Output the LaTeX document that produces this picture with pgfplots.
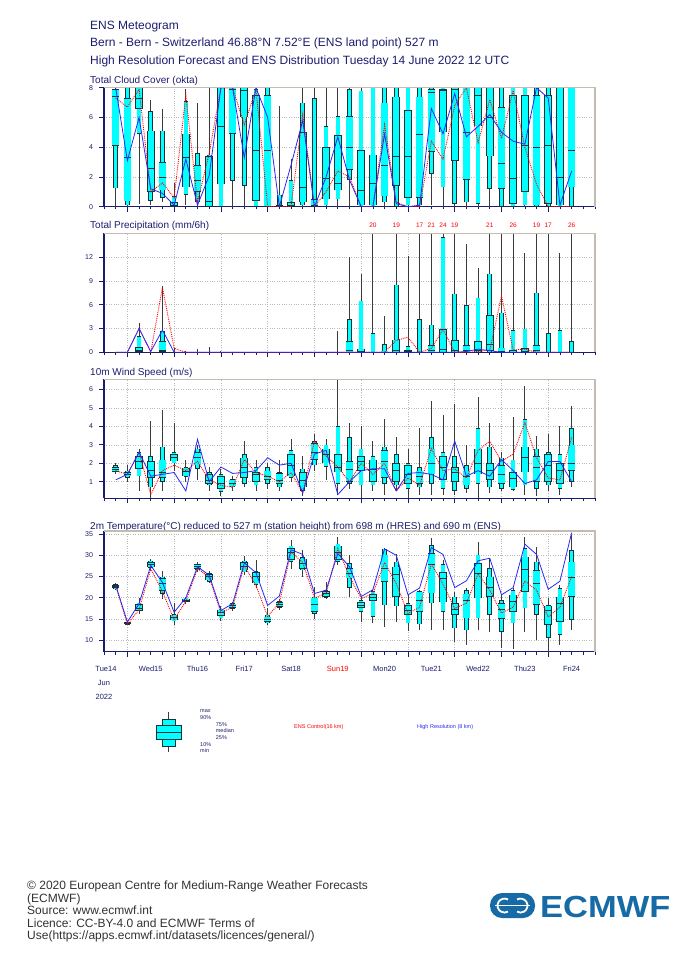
\documentclass[border=0pt]{standalone}
\usepackage{fontspec}
\setmainfont{Liberation Sans}
\usepackage{pgfplots}
\usepackage{pgfplotstable}
\pgfplotsset{compat=1.18}

\definecolor{navy}{RGB}{28,28,110}
\definecolor{boxcyan}{RGB}{0,255,255}
\definecolor{boxedge}{RGB}{20,50,55}
\definecolor{whisk}{RGB}{60,60,60}
\definecolor{hresblue}{RGB}{40,40,245}
\definecolor{framegrey}{RGB}{195,188,176}
\definecolor{ecblue}{RGB}{22,107,167}
\definecolor{foot}{RGB}{50,50,50}

% ---------------- data: t min p10 p25 median p75 p90 max control hres
\pgfplotstableread{
t lo p10 p25 med p75 p90 hi c h
6 0 1.25 4.1 7.4 7.9 7.9 8 7.3 8
12 0 0.1 0.35 3.3 7.3 8 8 6.7 3.1
18 0.2 4.9 6.6 7.3 8 8 8 7.9 6.0
24 0.1 0.4 1.0 2.6 5.1 6.4 7.2 1.0 1.2
30 0.3 0.6 1.1 2.0 3.0 5.1 6.6 1.6 0.9
36 0 0 0 0.1 0.3 0.7 1.6 0.6 0.1
42 0.1 0.8 1.3 3.3 4.9 7.1 7.9 7.5 3.2
48 0 0.3 1.0 1.8 2.8 3.6 7.0 0.3 0.1
54 0 0 0 0.35 3.4 3.5 8 3.6 2.1
60 0 0 1.5 5.4 8 8 8 8 8
66 0 1.75 4.9 7.9 8 8 8 8 8
72 0 1.4 6.0 7.8 8 8 8 5.5 3.3
78 0 0 0.4 3.8 7.5 7.9 8 7.9 8
84 0 0 0 3.8 7.5 8 8 0 6.0
90 0 0 0 0 0.1 0.8 6.8 0 0
96 0 0 0 0.1 0.3 1.8 3.2 0 2.8
102 0 0.1 0.3 1.3 5.0 7.0 8 6.2 5.8
108 0 0 0 0.1 0.5 7.3 8 0 0
114 0 0.1 0.5 1.9 4.0 5.4 8 1.0 2.0
120 0 0.5 1.1 1.6 4.8 6.1 8 2.4 4.7
126 0 1.8 2.5 4.0 6.1 7.9 8 2.0 1.8
132 0 0 0.1 1.1 3.8 7.8 8 0 0
138 0 0 0.1 1.6 3.5 8 8 0 0
144 0 0.3 0.7 2.8 7.0 8 8 5.5 4.9
150 0 0 1.4 3.4 7.4 8 8 0.3 0.2
156 0 0.1 0.6 3.4 6.5 8 8 0 0
162 0 0.1 0.6 4.9 7.4 8 8 0 0.1
168 0.1 2.2 3.7 7.7 7.9 8 8 4.4 6.6
174 0 1.3 5.0 7.8 7.9 8 8 3.2 4.9
180 0 0.2 3.1 7.9 8 8 8 6.8 7.6
186 0 0.3 1.8 5.0 8 8 8 8 4.7
192 0 0.2 5.4 7.5 8 8 8 4.3 5.4
198 0 1.2 3.4 6.0 8 8 8 7.2 6.2
204 0 0 1.2 2.9 6.7 8 8 4.6 5.0
210 0 0 0.2 1.9 7.5 8 8 7.8 4.4
216 0 0.1 1.0 4.1 7.5 8 8 4.0 4.2
222 0 0 0.1 4.0 7.5 8 8 1.5 8
228 0 0 0.2 4.1 7.5 8 8 0 7.3
234 0 0 0.1 2.0 8 8 8 0 0.1
240 0 0 1.3 3.8 8 8 8 0 2.4
}\cloud

\pgfplotstableread{
t lo p10 p25 med p75 p90 hi c h
6 0 0 0 0 0 0 0 0 0
12 0 0 0 0 0 0 0 0 0
18 0 0 0.05 0.2 0.63 2.0 3.65 3.0 3.0
24 0 0 0 0 0 0 0.05 0 0.1
30 0 0 0.1 0.3 1.4 2.7 8.3 8.2 2.8
36 0 0 0 0 0 0 0.6 0.5 0
42 0 0 0 0 0 0 0.2 0 0
48 0 0 0 0 0.05 0.1 0.4 0 0
54 0 0 0 0 0 0 0.7 0 0
60 0 0 0 0 0 0 0.2 0 0
66 0 0 0 0 0 0 0 0 0
72 0 0 0 0 0 0 0 0 0
78 0 0 0 0 0 0 0 0 0
84 0 0 0 0 0 0 0 0 0
90 0 0 0 0 0 0 0 0 0
96 0 0 0 0 0 0 0 0 0
102 0 0 0 0 0 0 0 0 0
108 0 0 0 0 0 0 0 0 0
114 0 0 0 0 0 0 0 0 0
120 0 0 0 0 0 0 2.7 0 0
126 0 0 0 0.2 1.4 4.2 12.0 0 0
132 0 0 0 0.1 0.46 6.5 9.9 0 0
138 0 0 0 0 0.1 2.4 20 0 0
144 0 0 0 0.05 0.2 1.0 4.6 0 0
150 0 0 0 0.3 1.6 8.5 19 1.5 0
156 0 0 0 0.1 0.3 0.8 12.2 1.9 0
162 0 0 0 0 0.1 4.2 17 0 0
168 0 0 0 0.2 0.9 3.5 21 0.5 0
174 0 0 0 0.4 2.9 14.5 24 2.9 0
180 0 0 0 0.3 1.5 7.4 19 0 0
186 0 0 0 0.2 0.9 5.9 13.7 0 0.1
192 0 0 0 0.3 1.4 6.9 10.6 0.1 0.4
198 0 0 0.2 1.0 4.7 9.9 21 0.3 0.2
204 0 0 0 0.1 0.6 5.0 14.9 7.1 0
210 0 0 0 0.05 0.3 2.8 26 0.3 0
216 0 0 0 0.1 0.55 3.0 12.5 0.4 0
222 0 0 0 0.2 0.9 7.5 19 0 0
228 0 0 0 0 0.05 2.4 17 0 0
234 0 0 0 0 0.05 2.8 12.5 0 0
240 0 0 0 0 0.1 1.4 26 0 0
}\precip

\pgfplotstableread{
t lo p10 p25 med p75 p90 hi c h
6 1.4 1.5 1.55 1.7 1.8 1.9 2.0 1.6 1.1
12 1.0 1.2 1.3 1.4 1.5 1.6 1.9 1.4 1.4
18 0.5 1.3 1.7 2.1 2.4 2.6 2.8 2.6 2.6
24 0.1 0.7 1.2 1.6 2.1 2.4 4.3 0.3 1.3
30 0.5 1.0 1.2 1.5 2.2 2.9 4.9 1.6 1.4
36 1.6 2.0 2.1 2.3 2.5 2.6 4.2 1.9 1.5
42 1.0 1.25 1.3 1.55 1.75 1.8 2.2 1.6 0.5
48 1.1 1.7 1.9 2.3 2.6 2.8 3.0 2.1 3.3
54 0.5 0.8 0.9 1.1 1.4 1.5 1.8 1.1 1.0
60 0.2 0.45 0.6 0.9 1.3 1.4 1.7 0.8 1.8
66 0.5 0.7 0.75 0.9 1.1 1.15 1.3 0.7 1.45
72 0.7 0.9 1.2 1.8 2.3 2.5 3.2 2.2 1.5
78 0.5 0.8 1.0 1.4 1.5 1.8 2.2 1.5 1.6
84 0.6 0.9 1.1 1.3 1.6 1.8 2.0 1.3 2.3
90 0.5 0.7 0.9 1.05 1.45 1.5 2.2 1.0 1.9
96 1.0 1.2 1.3 1.9 2.5 2.7 3.3 1.5 2.0
102 0.2 0.5 0.7 1.05 1.5 1.7 2.4 0.4 0.4
108 1.6 1.9 2.2 2.6 3.1 3.2 3.6 3.2 2.5
114 1.1 1.8 2.0 2.5 2.8 3.0 3.3 2.4 2.7
120 0.3 0.9 1.5 1.8 2.5 4.0 6.6 1.8 0.3
126 0.6 0.9 1.0 1.7 2.1 3.4 4.2 1.0 1.0
132 0.1 0.8 1.6 2.1 2.4 2.8 4.0 2.0 1.6
138 0.5 0.8 1.0 1.7 2.2 2.4 3.2 1.4 1.7
144 0.3 0.9 1.2 2.1 2.7 2.9 4.4 2.0 1.7
150 0.5 0.8 1.0 1.6 2.0 2.5 3.4 0.5 0.5
156 0.1 0.6 0.9 1.4 1.9 2.0 2.8 1.2 1.45
162 0.3 0.7 0.9 1.3 1.6 1.8 3.9 0.8 1.5
168 0.3 0.9 1.4 2.0 2.8 3.4 5.4 2.8 1.4
174 0.3 0.6 1.1 1.8 2.4 2.6 4.6 1.6 1.1
180 0.3 0.5 1.0 1.5 1.8 2.4 5.2 1.7 3.2
186 0.4 0.6 0.8 1.3 1.6 1.9 3.0 1.2 1.3
192 0.1 0.9 1.4 2.0 2.8 3.9 5.6 2.7 1.6
198 0.4 0.7 1.1 1.6 2.0 2.9 4.2 3.2 1.3
204 0.5 0.6 0.9 1.4 1.9 2.3 2.6 2.1 2.2
210 0.5 0.55 0.7 1.2 1.5 2.2 4.5 2.5 1.6
216 0.3 0.8 1.5 2.3 2.9 4.4 6.2 4.2 0.9
222 0.2 0.6 1.0 1.8 2.4 2.8 3.5 2.3 1.1
228 0.5 0.8 1.0 1.9 2.5 2.6 3.6 1.2 2.1
234 0.3 0.6 0.9 1.6 2.0 2.5 4.0 1.1 2.1
240 0.7 1.0 1.6 2.0 3.0 3.9 5.1 3.4 1.0
}\wind

\pgfplotstableread{
t lo p10 p25 med p75 p90 hi c h
6 21.8 22.0 22.4 22.7 23.0 23.2 23.5 22.8 23.0
12 13.6 13.7 13.8 14.0 14.2 14.3 14.5 13.8 14.3
18 16.3 16.8 17.0 17.6 18.5 18.8 20.0 17.2 18.6
24 26.5 27.0 27.2 27.8 28.4 28.7 29.2 26.8 27.6
30 19.6 21.0 21.7 23.5 24.6 25.0 26.3 21.5 23.6
36 13.6 14.5 14.7 15.4 16.0 16.2 18.7 14.8 16.6
42 18.6 18.9 19.1 19.5 19.8 20.0 20.2 19.2 20.0
48 26.0 26.5 26.8 27.4 27.9 28.0 28.5 26.9 27.3
54 23.5 23.8 24.1 25.1 25.6 25.8 26.2 24.8 25.3
60 14.6 15.2 15.7 16.5 17.2 17.4 18.0 16.5 17.0
66 17.0 17.4 17.6 18.2 18.6 18.7 19.0 17.8 18.6
72 25.4 26.0 26.5 27.5 28.3 28.7 29.8 27.6 28.2
78 22.4 23.0 23.4 25.0 26.0 26.2 28.8 22.9 25.9
84 13.5 14.0 14.3 15.0 15.6 16.0 17.6 15.6 18.2
90 17.2 17.6 17.9 18.5 19.0 19.2 19.6 18.8 20.4
96 26.7 28.4 29.0 30.7 31.7 32.2 33.5 30.8 31.3
102 24.8 26.5 26.8 28.0 29.2 29.5 31.2 28.3 30.2
108 15.0 16.2 16.7 18.5 20.0 20.3 22.6 20.0 21.0
114 19.6 20.0 20.3 21.0 21.5 21.8 23.8 21.0 21.8
120 27.7 28.4 29.0 30.8 32.2 32.7 34.2 31.6 30.4
126 20.3 22.4 24.6 25.8 26.9 28.1 30.1 25.0 27.3
132 14.2 16.7 17.6 18.3 19.0 19.5 20.3 19.8 20.3
138 14.0 15.6 19.3 20.0 20.8 21.6 21.8 21.0 21.9
144 13.2 18.2 23.8 26.9 30.1 31.5 31.6 28.3 31.5
150 14.4 18.0 20.3 25.5 27.3 28.5 30.2 23.3 30.0
156 12.2 14.0 16.0 17.1 18.2 18.7 20.7 16.3 20.7
162 12.4 13.8 16.7 19.4 21.4 21.6 21.8 17.8 22.3
168 12.4 18.7 21.1 27.9 30.5 32.4 34.0 28.0 31.8
174 12.4 16.7 18.9 24.5 26.0 27.9 28.9 23.2 30.2
180 9.7 12.8 16.0 17.4 18.7 20.3 21.3 17.5 22.4
186 8.9 12.4 15.2 19.4 21.0 21.8 22.2 18.7 24.0
192 12.4 15.2 19.9 25.8 28.1 30.1 33.2 25.6 28.7
198 11.9 16.0 20.3 22.5 25.0 26.9 29.4 21.8 29.3
204 8.1 12.0 15.0 17.4 18.7 19.5 20.7 16.4 20.7
210 8.0 14.0 16.7 19.2 20.7 21.8 22.4 17.8 22.4
216 11.9 17.5 21.4 26.8 29.7 31.6 34.4 23.9 32.6
222 10.1 16.0 18.3 23.5 26.5 28.5 31.9 21.8 30.2
228 7.3 10.6 13.6 17.0 18.1 18.3 19.9 15.5 22.0
234 8.9 11.3 14.4 18.8 20.3 22.2 23.0 17.8 23.9
240 12.4 14.8 20.3 24.8 28.5 31.2 34.8 25.0 35.3
}\temp

\pgfplotsset{
  met/.style={
    scale only axis, width=491pt,
    xmin=0, xmax=252,
    axis x line*=bottom, axis y line*=left,
    axis line style={navy, line width=1.2pt},
    xtick={12,36,...,228}, xticklabels={},
    minor xtick={0,6,...,252},
    tick align=outside,
    major tick length=5pt, minor tick length=2.7pt,
    tick style={navy, line width=0.7pt},
    xmajorgrids, ymajorgrids,
    major grid style={gray!55, dotted, line width=0.6pt},
    yticklabel style={font=\fontsize{7}{8}\selectfont, text=navy, xshift=-2.5pt},
    /pgf/number format/assume math mode=true,
    clip mode=individual,
  },
  ebar/.style={draw=none, mark=none, error bars/.cd, y dir=both, y explicit,
    error mark=none, error bar style={line cap=butt, #1}},
  ctrl/.style={red, densely dotted, line width=0.9pt},
  hresl/.style={hresblue, line width=0.8pt},
}

% #1 table, #2 inset (data units) for the cyan fill
\newcommand\drawboxes[2]{%
  \addplot[ebar={draw=whisk, line width=0.9pt}] table[x=t, y expr={(\thisrow{lo}+\thisrow{hi})/2}, y error expr={(\thisrow{hi}-\thisrow{lo})/2}] {#1};
  \addplot[ebar={draw=boxedge, line width=4.6pt}] table[x=t, y expr={(\thisrow{p10}+\thisrow{p90})/2}, y error expr={(\thisrow{p90}-\thisrow{p10})/2}] {#1};
  \addplot[ebar={draw=boxcyan, line width=3.4pt}] table[x=t, y expr={(\thisrow{p10}+\thisrow{p90})/2}, y error expr={max((\thisrow{p90}-\thisrow{p10})/2-#2,0)}] {#1};
  \addplot[ebar={draw=boxedge, line width=7.6pt}] table[x=t, y expr={(\thisrow{p25}+\thisrow{p75})/2}, y error expr={(\thisrow{p75}-\thisrow{p25})/2}] {#1};
  \addplot[ebar={draw=boxcyan, line width=6.4pt}] table[x=t, y expr={(\thisrow{p25}+\thisrow{p75})/2}, y error expr={max((\thisrow{p75}-\thisrow{p25})/2-#2,0)}] {#1};
  \addplot[draw=none, mark=none, error bars/.cd, x dir=both, x fixed=1.95, error mark=none,
    error bar style={draw=boxedge, line width=0.6pt}] table[x=t, y=med] {#1};
}
\newcommand\framelines{\draw[framegrey, line width=1.3pt] (rel axis cs:0,1) -- (rel axis cs:1,1) -- (rel axis cs:1,0);}

\begin{document}
\begin{tikzpicture}
\path[use as bounding box] (0pt,0pt) rectangle (700pt,-966pt);

% header
\begin{scope}[every node/.style={anchor=base west, inner sep=0pt, text=navy, font=\fontsize{12}{14}\selectfont}]
\node at (90pt,-29.5pt) {ENS Meteogram};
\node at (90pt,-47pt) {Bern - Bern - Switzerland 46.88°N 7.52°E (ENS land point) 527 m};
\node at (90pt,-64pt) {High Resolution Forecast and ENS Distribution Tuesday 14 June 2022 12 UTC};
\end{scope}

% panel titles
\begin{scope}[every node/.style={anchor=base west, inner sep=0pt, text=navy, font=\fontsize{10}{12}\selectfont}]
\node at (90pt,-84pt) {Total Cloud Cover (okta)};
\node at (90pt,-228.5pt) {Total Precipitation (mm/6h)};
\node at (90pt,-375pt) {10m Wind Speed (m/s)};
\node at (90pt,-529pt) {2m Temperature(°C) reduced to 527 m (station height) from 698 m (HRES) and 690 m (ENS)};
\end{scope}

% ---- cloud cover
\begin{axis}[met, at={(104pt,-87.7pt)}, anchor=north west, height=119pt,
  ymin=0, ymax=8, ytick={0,2,4,6,8}]
\drawboxes{\cloud}{0.04}
\addplot[ctrl] table[x=t,y=c]{\cloud};
\addplot[hresl] table[x=t,y=h]{\cloud};
\framelines
\end{axis}

% ---- precipitation
\begin{axis}[met, at={(104pt,-233.3pt)}, anchor=north west, height=119pt,
  ymin=0, ymax=15, ytick={0,3,6,9,12}]
\drawboxes{\precip}{0.075}
\addplot[ctrl] table[x=t,y=c]{\precip};
\addplot[hresl] table[x=t,y=h]{\precip};
\framelines
\begin{scope}[every node/.style={anchor=base, inner sep=0pt, text=red, font=\fontsize{6.5}{7}\selectfont, yshift=6pt}]
\node at (axis cs:138,15) {20};
\node at (axis cs:150,15) {19};
\node at (axis cs:162,15) {17};
\node at (axis cs:168,15) {21};
\node at (axis cs:174,15) {24};
\node at (axis cs:180,15) {19};
\node at (axis cs:198,15) {21};
\node at (axis cs:210,15) {26};
\node at (axis cs:222,15) {19};
\node at (axis cs:228,15) {17};
\node at (axis cs:240,15) {26};
\end{scope}
\end{axis}

% ---- wind
\begin{axis}[met, at={(104pt,-379.2pt)}, anchor=north west, height=119.1pt,
  ymin=0.1, ymax=6.56, ytick={1,2,3,4,5,6}]
\drawboxes{\wind}{0.033}
\addplot[ctrl] table[x=t,y=c]{\wind};
\addplot[hresl] table[x=t,y=h]{\wind};
\framelines
\end{axis}

% ---- temperature
\begin{axis}[met, at={(104pt,-531pt)}, anchor=north west, height=120.8pt,
  ymin=7.3, ymax=35.7, ytick={10,15,20,25,30,35}]
\drawboxes{\temp}{0.14}
\addplot[ctrl] table[x=t,y=c]{\temp};
\addplot[hresl] table[x=t,y=h]{\temp};
\framelines
\begin{scope}[every node/.style={anchor=base, inner sep=0pt, text=navy, font=\fontsize{7.5}{9}\selectfont, yshift=-20pt}]
\node at (axis cs:1,7.3) {Tue14};
\node at (axis cs:24,7.3) {Wed15};
\node at (axis cs:48,7.3) {Thu16};
\node at (axis cs:72,7.3) {Fri17};
\node at (axis cs:96,7.3) {Sat18};
\node[text=red] at (axis cs:120,7.3) {Sun19};
\node at (axis cs:144,7.3) {Mon20};
\node at (axis cs:168,7.3) {Tue21};
\node at (axis cs:192,7.3) {Wed22};
\node at (axis cs:216,7.3) {Thu23};
\node at (axis cs:240,7.3) {Fri24};
\node[yshift=-14pt] at (axis cs:0,7.3) {Jun};
\node[yshift=-28pt] at (axis cs:0,7.3) {2022};
\end{scope}
\end{axis}

% ---- legend
\draw[whisk, line width=0.9pt] (168.9pt,-711.7pt) -- (168.9pt,-719pt);
\draw[whisk, line width=0.9pt] (168.9pt,-746.3pt) -- (168.9pt,-752pt);
\filldraw[fill=boxcyan, draw=boxedge, line width=0.6pt] (162.7pt,-719pt) rectangle (175.3pt,-725.7pt);
\filldraw[fill=boxcyan, draw=boxedge, line width=0.6pt] (162.7pt,-739pt) rectangle (175.3pt,-746.3pt);
\filldraw[fill=boxcyan, draw=boxedge, line width=0.6pt] (156pt,-725.7pt) rectangle (181.7pt,-739pt);
\draw[boxedge, line width=0.6pt] (156pt,-732.3pt) -- (181.7pt,-732.3pt);
\begin{scope}[every node/.style={anchor=base west, inner sep=0pt, text=navy, font=\fontsize{5.5}{6}\selectfont}]
\node at (200pt,-712pt) {max};
\node at (200pt,-719.3pt) {90\%};
\node at (215.7pt,-726pt) {75\%};
\node at (215.7pt,-732.7pt) {median};
\node at (215.7pt,-739.7pt) {25\%};
\node at (200pt,-746pt) {10\%};
\node at (200pt,-752.7pt) {min};
\node[text=red] at (294pt,-728pt) {ENS Control(16 km)};
\node[text=hresblue] at (417pt,-728pt) {High Resolution (8 km)};
\end{scope}

% ---- footer
\begin{scope}[every node/.style={anchor=base west, inner sep=0pt, text=foot, font=\fontsize{12}{14}\selectfont}]
\node at (27pt,-889.3pt) {© 2020 European Centre for Medium-Range Weather Forecasts};
\node at (27pt,-902pt) {(ECMWF)};
\node at (27pt,-914.3pt) {Source: www.ecmwf.int};
\node at (27pt,-927pt) {Licence: CC-BY-4.0 and ECMWF Terms of};
\node at (27pt,-939.3pt) {Use(https://apps.ecmwf.int/datasets/licences/general/)};
\end{scope}

% ---- logo
\fill[ecblue, rounded corners=12pt] (490pt,-893pt) rectangle (535pt,-918pt);
\draw[white, line width=1.8pt] (508pt,-899.5pt) arc[start angle=60, end angle=300, radius=7pt];
\draw[white, line width=1.8pt] (517pt,-899.5pt) arc[start angle=120, end angle=-120, radius=7pt];
\draw[white, line width=1.6pt] (495pt,-905.5pt) -- (530pt,-905.5pt);
\node[anchor=base west, inner sep=0pt, text=ecblue, font=\fontsize{30.5}{31}\selectfont\bfseries, xscale=1.13] at (540pt,-917pt) {ECMWF};
\end{tikzpicture}
\end{document}
